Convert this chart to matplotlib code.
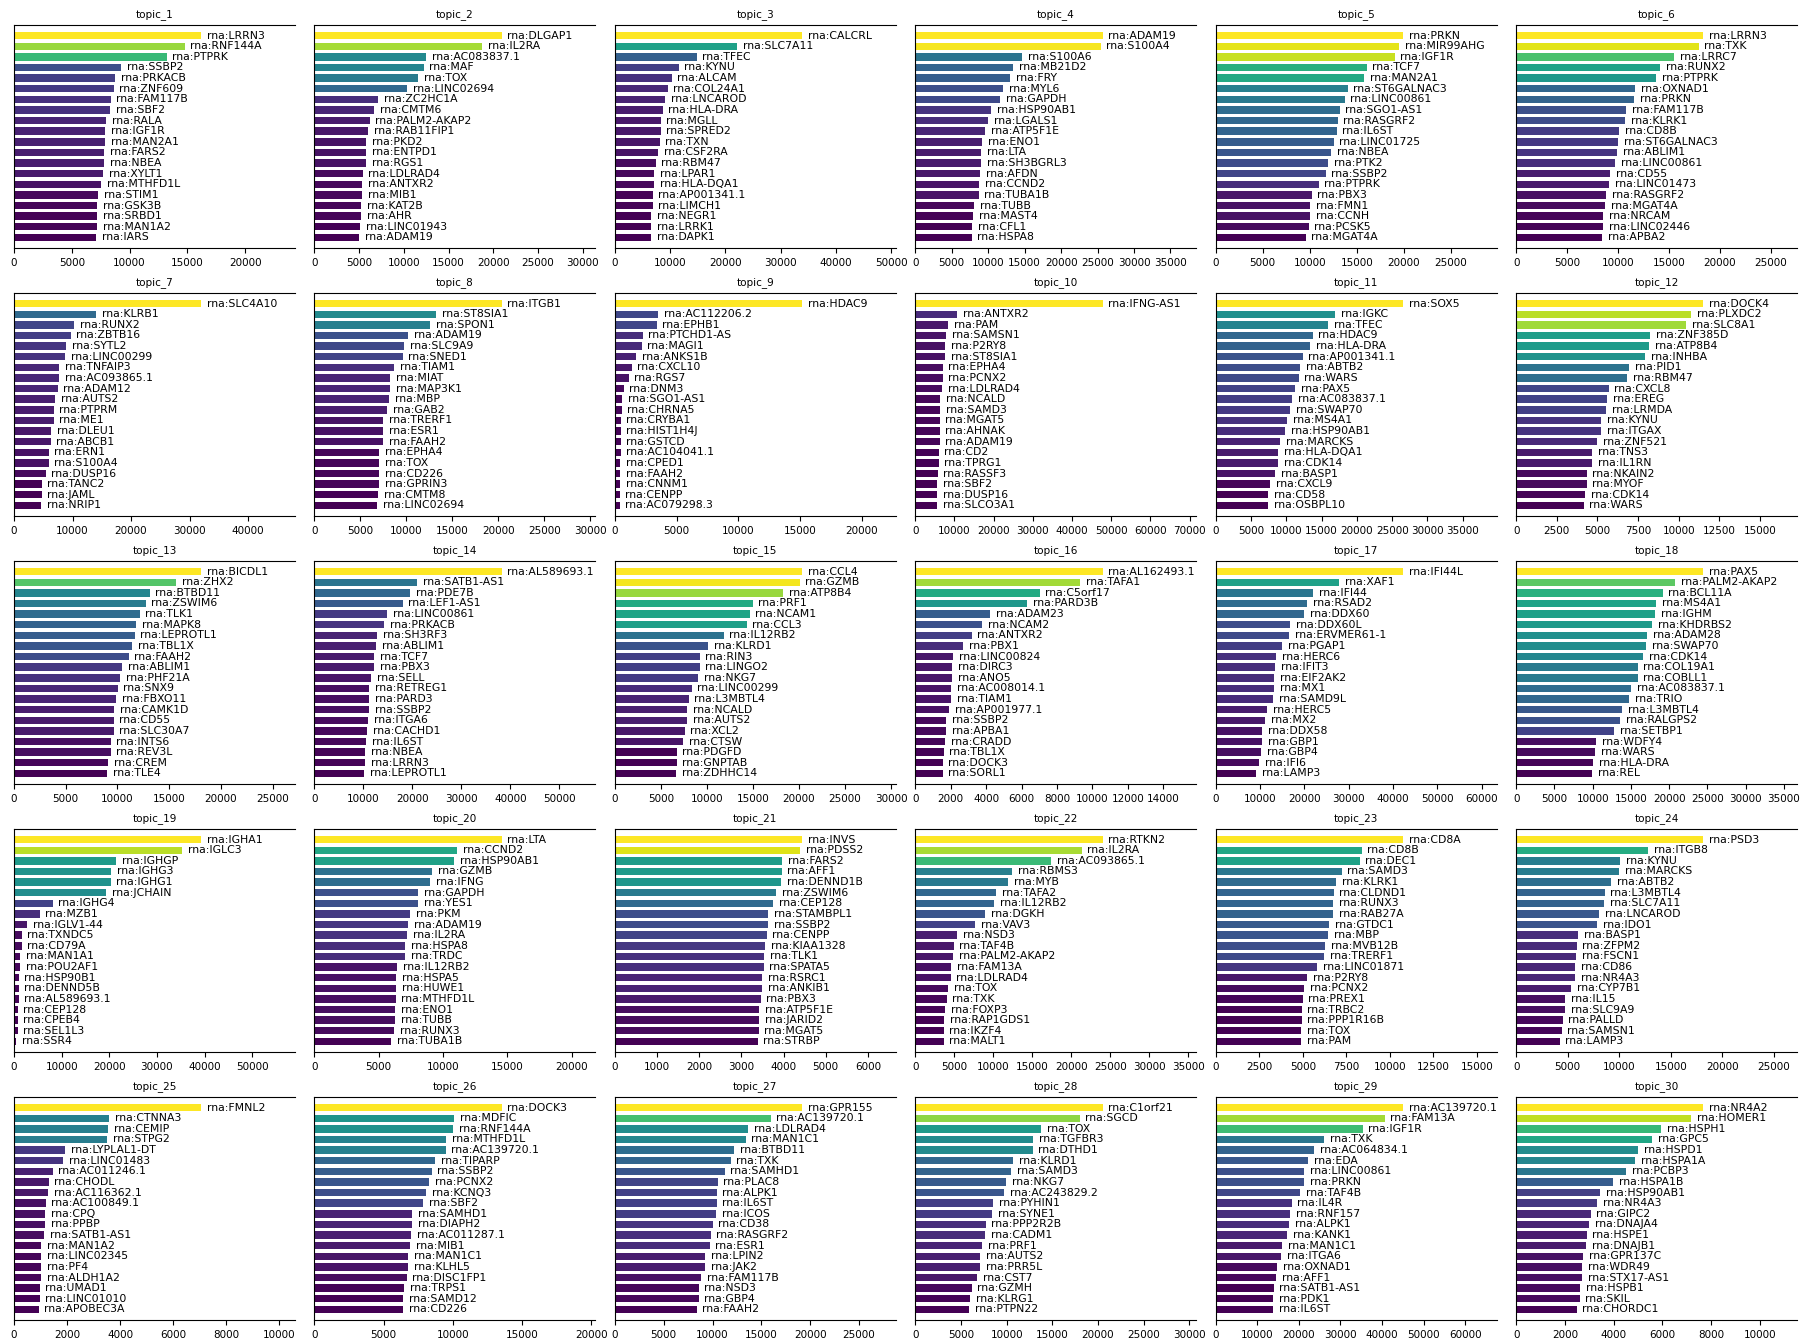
import matplotlib

matplotlib.use("Agg")

import matplotlib.pyplot as plt
import numpy as np

# top 20 genes per topic (name without the "rna:" prefix) and their weights
genes_1 = ["LRRN3", "RNF144A", "PTPRK", "SSBP2", "PRKACB", "ZNF609", "FAM117B", "SBF2", "RALA", "IGF1R",
           "MAN2A1", "FARS2", "NBEA", "XYLT1", "MTHFD1L", "STIM1", "GSK3B", "SRBD1", "MAN1A2", "IARS"]
values_1 = [16200, 14780, 13215, 9265, 8760, 8610, 8350, 8340, 8000, 7910,
            7900, 7810, 7800, 7700, 7540, 7290, 7200, 7190, 7180, 7090]

genes_2 = ["DLGAP1", "IL2RA", "AC083837.1", "MAF", "TOX", "LINC02694", "ZC2HC1A", "CMTM6", "PALM2-AKAP2", "RAB11FIP1",
           "PKD2", "ENTPD1", "RGS1", "LDLRAD4", "ANTXR2", "MIB1", "KAT2B", "AHR", "LINC01943", "ADAM19"]
values_2 = [20940, 18790, 12525, 12200, 11610, 10370, 7110, 6650, 6200, 6000,
            5810, 5800, 5790, 5410, 5360, 5350, 5230, 5220, 5090, 5020]

genes_3 = ["CALCRL", "SLC7A11", "TFEC", "KYNU", "ALCAM", "COL24A1", "LNCAROD", "HLA-DRA", "MGLL", "SPRED2",
           "TXN", "CSF2RA", "RBM47", "LPAR1", "HLA-DQA1", "AP001341.1", "LIMCH1", "NEGR1", "LRRK1", "DAPK1"]
values_3 = [33900, 22100, 14840, 11580, 10320, 9580, 9160, 8630, 8330, 8320,
            8100, 7900, 7370, 7170, 7160, 6850, 6840, 6630, 6540, 6530]

genes_4 = ["ADAM19", "S100A4", "S100A6", "MB21D2", "FRY", "MYL6", "GAPDH", "HSP90AB1", "LGALS1", "ATP5F1E",
           "ENO1", "LTA", "SH3BGRL3", "AFDN", "CCND2", "TUBA1B", "TUBB", "MAST4", "CFL1", "HSPA8"]
values_4 = [25680, 25440, 14640, 13440, 13040, 12080, 11680, 10400, 10000, 9600,
            9200, 9050, 9040, 8880, 8730, 8720, 8080, 7920, 7770, 7760]

genes_5 = ["PRKN", "MIR99AHG", "IGF1R", "TCF7", "MAN2A1", "ST6GALNAC3", "LINC00861", "SGO1-AS1", "RASGRF2", "IL6ST",
           "LINC01725", "NBEA", "PTK2", "SSBP2", "PTPRK", "PBX3", "FMN1", "CCNH", "PCSK5", "MGAT4A"]
values_5 = [19910, 19480, 19040, 16070, 15820, 14040, 13730, 13170, 12980, 12860,
            12550, 12300, 11930, 11680, 10930, 10190, 10070, 10060, 9870, 9560]

genes_6 = ["LRRN3", "TXK", "LRRC7", "RUNX2", "PTPRK", "OXNAD1", "PRKN", "FAM117B", "KLRK1", "CD8B",
           "ST6GALNAC3", "ABLIM1", "LINC00861", "CD55", "LINC01473", "RASGRF2", "MGAT4A", "NRCAM", "LINC02446", "APBA2"]
values_6 = [18400, 17950, 15540, 14160, 13760, 11700, 11580, 10840, 10720, 10150,
            10030, 9920, 9750, 9230, 9120, 8830, 8720, 8550, 8540, 8430]

genes_7 = ["SLC4A10", "KLRB1", "RUNX2", "ZBTB16", "SYTL2", "LINC00299", "TNFAIP3", "AC093865.1", "ADAM12", "AUTS2",
           "PTPRM", "ME1", "DLEU1", "ABCB1", "ERN1", "S100A4", "DUSP16", "TANC2", "JAML", "NRIP1"]
values_7 = [32000, 14000, 10300, 9700, 8900, 8700, 7710, 7700, 7500, 7000,
            6810, 6800, 6310, 6300, 5910, 5900, 5400, 4720, 4710, 4700]

genes_8 = ["ITGB1", "ST8SIA1", "SPON1", "ADAM19", "SLC9A9", "SNED1", "TIAM1", "MIAT", "MAP3K1", "MBP",
           "GAB2", "TRERF1", "ESR1", "FAAH2", "EPHA4", "TOX", "CD226", "GPRIN3", "CMTM8", "LINC02694"]
values_8 = [20360, 13250, 12620, 10210, 9770, 9580, 8690, 8250, 8240, 8120,
            7930, 7490, 7480, 7470, 7060, 7050, 7040, 7030, 6910, 6850]

genes_9 = ["HDAC9", "AC112206.2", "EPHB1", "PTCHD1-AS", "MAGI1", "ANKS1B", "CXCL10", "RGS7", "DNM3", "SGO1-AS1",
           "CHRNA5", "CRYBA1", "HIST1H4J", "GSTCD", "AC104041.1", "CPED1", "FAAH2", "CNNM1", "CENPP", "AC079298.3"]
values_9 = [15150, 3530, 3390, 2260, 2160, 1740, 1360, 1130, 710, 610,
            560, 475, 470, 465, 460, 455, 450, 440, 385, 380]

genes_10 = ["IFNG-AS1", "ANTXR2", "PAM", "SAMSN1", "P2RY8", "ST8SIA1", "EPHA4", "PCNX2", "LDLRAD4", "NCALD",
            "SAMD3", "MGAT5", "AHNAK", "ADAM19", "CD2", "TPRG1", "RASSF3", "SBF2", "DUSP16", "SLCO3A1"]
values_10 = [47770, 10710, 8330, 7890, 7600, 7590, 7000, 6990, 6850, 6400,
             6280, 6260, 6250, 6240, 5960, 5950, 5680, 5660, 5650, 5640]

genes_11 = ["SOX5", "IGKC", "TFEC", "HDAC9", "HLA-DRA", "AP001341.1", "ABTB2", "WARS", "PAX5", "AC083837.1",
            "SWAP70", "MS4A1", "HSP90AB1", "MARCKS", "HLA-DQA1", "CDK14", "BASP1", "CXCL9", "CD58", "OSBPL10"]
values_11 = [26530, 16940, 15950, 13720, 13390, 12310, 11980, 11740, 11240, 10830,
             10580, 10170, 9830, 9170, 8850, 8840, 8430, 7690, 7450, 7440]

genes_12 = ["DOCK4", "PLXDC2", "SLC8A1", "ZNF385D", "ATP8B4", "INHBA", "PID1", "RBM47", "CXCL8", "EREG",
            "LRMDA", "KYNU", "ITGAX", "ZNF521", "TNS3", "IL1RN", "NKAIN2", "MYOF", "CDK14", "WARS"]
values_12 = [11520, 10760, 10480, 8250, 8180, 7930, 6960, 6820, 5700, 5600,
             5530, 5250, 5240, 4990, 4670, 4660, 4350, 4340, 4230, 4160]

genes_13 = ["BICDL1", "ZHX2", "BTBD11", "ZSWIM6", "TLK1", "MAPK8", "LEPROTL1", "TBL1X", "FAAH2", "ABLIM1",
            "PHF21A", "SNX9", "FBXO11", "CAMK1D", "CD55", "SLC30A7", "INTS6", "REV3L", "CREM", "TLE4"]
values_13 = [18100, 15670, 13120, 12730, 12160, 11820, 11650, 11430, 11090, 10460,
             10290, 10010, 9900, 9670, 9630, 9620, 9340, 9330, 9110, 8990]

genes_14 = ["AL589693.1", "SATB1-AS1", "PDE7B", "LEF1-AS1", "LINC00861", "PRKACB", "SH3RF3", "ABLIM1", "TCF7", "PBX3",
            "SELL", "RETREG1", "PARD3", "SSBP2", "ITGA6", "CACHD1", "IL6ST", "NBEA", "LRRN3", "LEPROTL1"]
values_14 = [38210, 20950, 19520, 17980, 14880, 14290, 12860, 12620, 12150, 12140,
             11550, 11200, 11190, 11180, 10950, 10710, 10600, 10370, 10360, 10120]

genes_15 = ["CCL4", "GZMB", "ATP8B4", "PRF1", "NCAM1", "CCL3", "IL12RB2", "KLRD1", "RIN3", "LINGO2",
            "NKG7", "LINC00299", "L3MBTL4", "NCALD", "AUTS2", "XCL2", "CTSW", "PDGFD", "GNPTAB", "ZDHHC14"]
values_15 = [20340, 20090, 18260, 14970, 14660, 14340, 11810, 10170, 9230, 9220,
             9030, 8340, 8020, 7840, 7830, 7580, 7390, 6710, 6700, 6690]

genes_16 = ["AL162493.1", "TAFA1", "C5orf17", "PARD3B", "ADAM23", "NCAM2", "ANTXR2", "PBX1", "LINC00824", "DIRC3",
            "ANO5", "AC008014.1", "TIAM1", "AP001977.1", "SSBP2", "APBA1", "CRADD", "TBL1X", "DOCK3", "SORL1"]
values_16 = [10570, 9320, 7020, 6320, 4220, 3790, 3190, 2700, 2140, 2085,
             2080, 2015, 2010, 1910, 1755, 1750, 1680, 1610, 1555, 1550]

genes_17 = ["IFI44L", "XAF1", "IFI44", "RSAD2", "DDX60", "DDX60L", "ERVMER61-1", "PGAP1", "HERC6", "IFIT3",
            "EIF2AK2", "MX1", "SAMD9L", "HERC5", "MX2", "DDX58", "GBP1", "GBP4", "IFI6", "LAMP3"]
values_17 = [42240, 27890, 21970, 20660, 20000, 16840, 16580, 15000, 13680, 13420,
             13170, 13160, 13030, 11580, 11180, 10540, 10530, 10260, 9870, 9080]

genes_18 = ["PAX5", "PALM2-AKAP2", "BCL11A", "MS4A1", "IGHM", "KHDRBS2", "ADAM28", "SWAP70", "CDK14", "COL19A1",
            "COBLL1", "AC083837.1", "TRIO", "L3MBTL4", "RALGPS2", "SETBP1", "WDFY4", "WARS", "HLA-DRA", "REL"]
values_18 = [24480, 20820, 19150, 18310, 18150, 17770, 17160, 17010, 16630, 15880,
             15870, 15030, 14800, 13880, 13580, 12810, 10450, 10300, 10070, 9920]

genes_19 = ["IGHA1", "IGLC3", "IGHGP", "IGHG3", "IGHG1", "JCHAIN", "IGHG4", "MZB1", "IGLV1-44", "TXNDC5",
            "CD79A", "MAN1A1", "POU2AF1", "HSP90B1", "DENND5B", "AL589693.1", "CEP128", "CPEB4", "SEL1L3", "SSR4"]
values_19 = [39310, 35260, 21500, 20390, 20270, 19410, 8110, 5410, 2830, 1610,
             1600, 1360, 1350, 990, 985, 980, 750, 745, 740, 490]

genes_20 = ["LTA", "CCND2", "HSP90AB1", "GZMB", "IFNG", "GAPDH", "YES1", "PKM", "ADAM19", "IL2RA",
            "HSPA8", "TRDC", "IL12RB2", "HSPA5", "HUWE1", "MTHFD1L", "ENO1", "TUBB", "RUNX3", "TUBA1B"]
values_20 = [14560, 11110, 10880, 9160, 9020, 8080, 8070, 7440, 7300, 7210,
             7080, 7070, 6440, 6360, 6350, 6310, 6300, 6290, 6210, 5990]

genes_21 = ["INVS", "PDSS2", "FARS2", "AFF1", "DENND1B", "ZSWIM6", "CEP128", "STAMBPL1", "SSBP2", "CENPP",
            "KIAA1328", "TLK1", "SPATA5", "RSRC1", "ANKIB1", "PBX3", "ATP5F1E", "JARID2", "MGAT5", "STRBP"]
values_21 = [4440, 4390, 3965, 3960, 3940, 3820, 3750, 3635, 3630, 3600,
             3560, 3535, 3530, 3495, 3490, 3460, 3425, 3420, 3415, 3390]

genes_22 = ["RTKN2", "IL2RA", "AC093865.1", "RBMS3", "MYB", "TAFA2", "IL12RB2", "DGKH", "VAV3", "NSD3",
            "TAF4B", "PALM2-AKAP2", "FAM13A", "LDLRAD4", "TOX", "TXK", "FOXP3", "RAP1GDS1", "IKZF4", "MALT1"]
values_22 = [24010, 21320, 17430, 12420, 11890, 10400, 10100, 8980, 7700, 5390,
             4940, 4860, 4570, 4560, 4190, 4040, 3810, 3670, 3660, 3650]

genes_23 = ["CD8A", "CD8B", "DEC1", "SAMD3", "KLRK1", "CLDND1", "RUNX3", "RAB27A", "GTDC1", "MBP",
            "MVB12B", "TRERF1", "LINC01871", "P2RY8", "PCNX2", "PREX1", "TRBC2", "PPP1R16B", "TOX", "PAM"]
values_23 = [10750, 8370, 8270, 7230, 6930, 6770, 6760, 6750, 6530, 6460,
             6290, 6230, 5830, 5260, 5090, 4990, 4930, 4925, 4920, 4910]

genes_24 = ["PSD3", "ITGB8", "KYNU", "MARCKS", "ABTB2", "L3MBTL4", "SLC7A11", "LNCAROD", "IDO1", "BASP1",
            "ZFPM2", "FSCN1", "CD86", "NR4A3", "CYP7B1", "IL15", "SLC9A9", "PALLD", "SAMSN1", "LAMP3"]
values_24 = [18160, 12780, 10070, 10010, 9220, 8600, 8540, 8030, 7860, 6000,
             5880, 5830, 5720, 5710, 5320, 4760, 4750, 4520, 4410, 4240]

genes_25 = ["FMNL2", "CTNNA3", "CEMIP", "STPG2", "LYPLAL1-DT", "LINC01483", "AC011246.1", "CHODL", "AC116362.1", "AC100849.1",
            "CPQ", "PPBP", "SATB1-AS1", "MAN1A2", "LINC02345", "PF4", "ALDH1A2", "UMAD1", "LINC01010", "APOBEC3A"]
values_25 = [7060, 3600, 3550, 3510, 1920, 1850, 1460, 1305, 1300, 1190,
             1175, 1170, 1130, 1025, 1022, 1020, 1018, 975, 970, 930]

genes_26 = ["DOCK3", "MDFIC", "RNF144A", "MTHFD1L", "AC139720.1", "TIPARP", "SSBP2", "PCNX2", "KCNQ3", "SBF2",
            "SAMHD1", "DIAPH2", "AC011287.1", "MIB1", "MAN1C1", "KLHL5", "DISC1FP1", "TRPS1", "SAMD12", "CD226"]
values_26 = [13520, 10110, 10020, 9520, 9470, 8720, 8460, 8290, 8080, 7870,
             7080, 7070, 6990, 6910, 6790, 6780, 6650, 6480, 6410, 6400]

genes_27 = ["GPR155", "AC139720.1", "LDLRAD4", "MAN1C1", "BTBD11", "TXK", "SAMHD1", "PLAC8", "ALPK1", "IL6ST",
            "ICOS", "CD38", "RASGRF2", "ESR1", "LPIN2", "JAK2", "FAM117B", "NSD3", "GBP4", "FAAH2"]
values_27 = [19170, 15950, 13630, 13390, 12200, 11850, 11250, 10540, 10430, 10420,
             10360, 10000, 9820, 9700, 9240, 9230, 8870, 8580, 8570, 8390]

genes_28 = ["C1orf21", "SGCD", "TOX", "TGFBR3", "DTHD1", "KLRD1", "SAMD3", "NKG7", "AC243829.2", "PYHIN1",
            "SYNE1", "PPP2R2B", "CADM1", "PRF1", "AUTS2", "PRR5L", "CST7", "GZMH", "KLRG1", "PTPN22"]
values_28 = [20490, 18000, 13790, 12890, 12830, 10720, 10470, 9960, 9700, 8550,
             8420, 7720, 7660, 7340, 7090, 7080, 6760, 6190, 6000, 5870]

genes_29 = ["AC139720.1", "FAM13A", "IGF1R", "TXK", "AC064834.1", "EDA", "LINC00861", "PRKN", "TAF4B", "IL4R",
            "RNF157", "ALPK1", "KANK1", "MAN1C1", "ITGA6", "OXNAD1", "AFF1", "SATB1-AS1", "PDK1", "IL6ST"]
values_29 = [45020, 40670, 35340, 26090, 23700, 22300, 21330, 21320, 20340, 18230,
             17950, 17670, 17250, 15990, 15710, 14730, 14590, 13900, 13890, 13880]

genes_30 = ["NR4A2", "HOMER1", "HSPH1", "GPC5", "HSPD1", "HSPA1A", "PCBP3", "HSPA1B", "HSP90AB1", "NR4A3",
            "GIPC2", "DNAJA4", "HSPE1", "DNAJB1", "GPR137C", "WDR49", "STX17-AS1", "HSPB1", "SKIL", "CHORDC1"]
values_30 = [7680, 7180, 5960, 5570, 5000, 4880, 4520, 3970, 3440, 3330,
             3060, 2990, 2890, 2870, 2750, 2710, 2700, 2620, 2610, 2490]

TOPICS = [
    (genes_1, values_1), (genes_2, values_2), (genes_3, values_3), (genes_4, values_4),
    (genes_5, values_5), (genes_6, values_6), (genes_7, values_7), (genes_8, values_8),
    (genes_9, values_9), (genes_10, values_10), (genes_11, values_11), (genes_12, values_12),
    (genes_13, values_13), (genes_14, values_14), (genes_15, values_15), (genes_16, values_16),
    (genes_17, values_17), (genes_18, values_18), (genes_19, values_19), (genes_20, values_20),
    (genes_21, values_21), (genes_22, values_22), (genes_23, values_23), (genes_24, values_24),
    (genes_25, values_25), (genes_26, values_26), (genes_27, values_27), (genes_28, values_28),
    (genes_29, values_29), (genes_30, values_30),
]

W, H = 1811, 1344
fig, axes = plt.subplots(5, 6, figsize=(W / 100, H / 100), dpi=100)
fig.subplots_adjust(left=14 / W, right=1797 / W, top=1 - 25 / H, bottom=24 / H,
                    wspace=19.6 / 281, hspace=45 / 223)

cmap = plt.get_cmap("viridis")

for i, (ax, (genes, vals)) in enumerate(zip(axes.flat, TOPICS)):
    vals = np.asarray(vals, dtype=float)
    vmin, vmax = vals.min(), vals.max()
    colores = cmap((vals - vmin) / (vmax - vmin))
    pos = np.arange(len(vals))

    ax.barh(pos, vals, height=0.7, color=colores)
    for p, v, g in zip(pos, vals, genes):
        ax.text(v + 0.03 * vmax, p, f"rna:{g}", va="center", ha="left", fontsize=7.8)

    ax.set_xlim(0, 1.5 * vmax)
    ax.set_ylim(len(vals), -1)
    ax.set_yticks([])
    ax.tick_params(axis="x", labelsize=7.5)
    ax.spines["right"].set_visible(False)
    ax.set_title(f"topic_{i + 1}", fontsize=7.5)

fig.savefig("out.png", dpi=100)
